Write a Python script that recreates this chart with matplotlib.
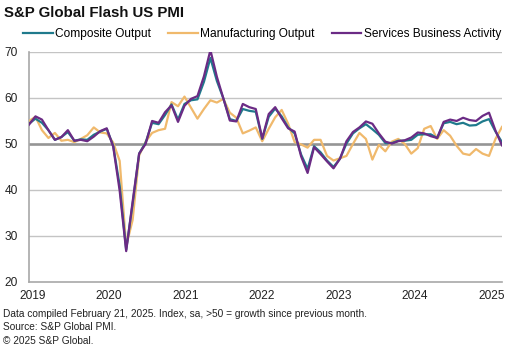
import numpy as np
import matplotlib
matplotlib.use("Agg")
import matplotlib.pyplot as plt

plt.rcParams['font.family'] = ['Liberation Sans', 'DejaVu Sans']

# monthly flash PMI readings, Jan 2019 .. Feb 2025
composite = [
    54.4, 55.5, 54.6, 53.0, 50.9, 51.5, 52.6, 50.7, 51.0, 50.9, 52.0, 52.7,
    53.3, 49.6, 40.9, 27.0, 37.0, 47.9, 50.3, 54.6, 54.3, 56.3, 58.6, 55.3,
    58.7, 59.5, 59.7, 63.5, 68.7, 63.7, 59.9, 55.4, 55.0, 57.6, 57.2, 57.0,
    51.1, 55.9, 57.7, 56.0, 53.6, 52.3, 47.7, 44.6, 49.5, 48.2, 46.4, 45.0,
    46.8, 50.1, 52.3, 53.4, 54.3, 53.2, 52.0, 50.2, 50.2, 50.7, 50.7, 50.9,
    52.0, 52.1, 52.1, 51.3, 54.5, 54.8, 54.3, 54.6, 54.0, 54.1, 54.9, 55.4,
    52.7, 50.4,
]
manufacturing = [
    55.0, 55.9, 53.0, 51.3, 52.4, 50.7, 50.9, 50.4, 51.1, 51.9, 53.6, 52.5,
    52.3, 50.3, 46.3, 27.8, 33.5, 47.5, 50.5, 52.4, 53.0, 53.3, 59.1, 58.2,
    60.3, 57.9, 55.5, 57.6, 59.5, 59.0, 59.8, 56.8, 55.7, 52.3, 52.9, 53.6,
    50.6, 53.3, 55.8, 57.4, 54.4, 50.4, 49.9, 49.2, 50.9, 50.9, 47.4, 46.4,
    46.9, 47.4, 50.0, 52.4, 51.1, 46.6, 49.8, 48.4, 50.5, 51.1, 50.0, 47.9,
    49.1, 53.3, 53.9, 51.1, 53.0, 51.8, 49.6, 47.9, 47.6, 48.9, 47.9, 47.4,
    51.1, 53.7,
]
services = [
    54.2, 56.0, 55.3, 53.0, 50.9, 51.5, 53.0, 50.7, 50.9, 50.6, 51.6, 52.8,
    53.4, 49.4, 39.8, 26.7, 37.5, 47.9, 50.0, 55.0, 54.6, 56.9, 58.4, 54.8,
    58.3, 59.8, 60.4, 64.7, 70.4, 64.6, 59.9, 55.1, 54.9, 58.7, 58.0, 57.6,
    51.2, 56.5, 58.0, 55.6, 53.4, 52.7, 47.3, 43.7, 49.3, 47.8, 46.2, 44.7,
    46.8, 50.6, 52.6, 53.6, 54.9, 54.4, 52.3, 50.5, 50.1, 50.6, 50.8, 51.4,
    52.5, 52.3, 51.7, 51.3, 54.8, 55.3, 55.0, 55.7, 55.2, 55.0, 56.1, 56.8,
    52.9, 49.7,
]
years = ['2019', '2020', '2021', '2022', '2023', '2024', '2025']

months = np.arange(len(composite))

fig = plt.figure(figsize=(5.27, 3.56), dpi=100)
ax = fig.add_axes([0.055, 0.208, 0.8975, 0.646])

# grid
for v in [30, 40, 60, 70]:
    ax.axhline(v, color='#c4c4c4', lw=1.0, zorder=1)
ax.axhline(50, color='#959595', lw=1.9, zorder=1)

ax.plot(months, manufacturing, color='#f0b96c', lw=1.6, zorder=3, label='Manufacturing Output')
ax.plot(months, composite, color='#1f7a8c', lw=1.6, zorder=4, label='Composite Output')
ax.plot(months, services, color='#6b2b85', lw=1.6, zorder=5, label='Services Business Activity')

ax.set_xlim(0, len(composite) - 1)
ax.set_ylim(20, 70)
ax.set_yticks([20, 30, 40, 50, 60, 70])
ax.set_xticks(np.linspace(0.55, 71.4, len(years)))
ax.set_xticklabels(years)
ax.tick_params(length=0, labelsize=8.6, colors='#222222', pad=6)
ax.tick_params(axis='y', pad=8)

for s in ['top', 'right']:
    ax.spines[s].set_visible(False)
ax.spines['left'].set_color('#a8a8a8')
ax.spines['bottom'].set_color('#a8a8a8')
ax.spines['left'].set_linewidth(1.2)
ax.spines['bottom'].set_linewidth(1.2)

h, l = ax.get_legend_handles_labels()
order = [1, 0, 2]
fig.legend([h[i] for i in order], [l[i] for i in order], loc='center left',
           bbox_to_anchor=(0.044, 0.905), ncol=3, frameon=False,
           fontsize=8.6, handlelength=2.5, handletextpad=0.2, columnspacing=1.4,
           borderaxespad=0, borderpad=0)

fig.text(0.008, 0.963, 'S&P Global Flash US PMI', fontsize=10.8, fontweight='bold',
         va='center', ha='left', color='#111111')

foot = ['Data compiled February 21, 2025. Index, sa, >50 = growth since previous month.',
        'Source: S&P Global PMI.',
        '\u00a9 2025 S&P Global.']
for i, t in enumerate(foot):
    fig.text(0.006, 1 - (314 + i * 13.5) / 356, t, fontsize=7.3, va='center',
             ha='left', color='#222222')

fig.savefig('out.png', dpi=100)
